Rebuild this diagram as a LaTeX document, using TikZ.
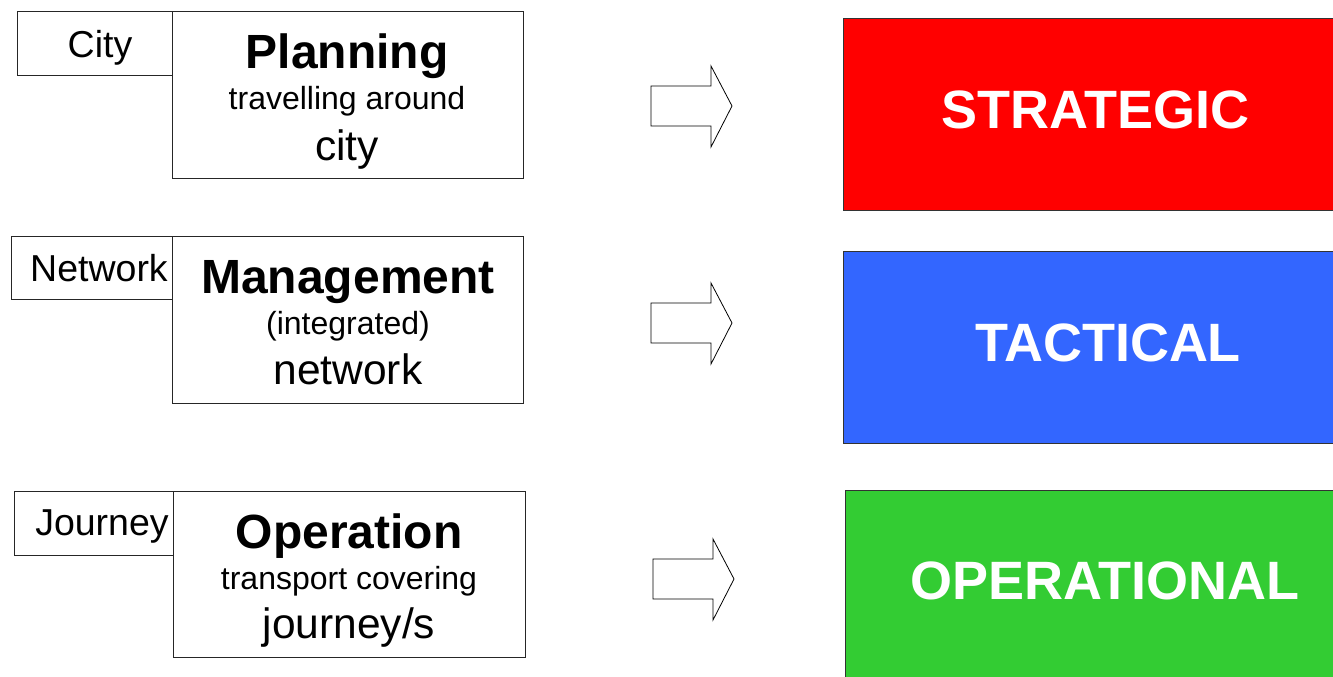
\documentclass[tikz,border=0pt]{standalone}
\usepackage{fontspec}
\setmainfont{Liberation Sans}
\begin{document}
\begin{tikzpicture}[x=1pt,y=-1pt,
  frame/.style={draw=black!85,line width=0.9pt,fill=white,inner sep=0pt},
  lbl/.style={frame,anchor=north west},
  mainbox/.style={frame,anchor=north west},
  tagtext/.style={anchor=base,inner sep=0pt,font=\fontsize{37.5}{37.5}\selectfont},
  headtext/.style={anchor=base,inner sep=0pt,font=\fontsize{48}{48}\selectfont\bfseries},
  subtext/.style={anchor=base,inner sep=0pt,font=\fontsize{32}{32}\selectfont},
  objtext/.style={anchor=base,inner sep=0pt,font=\fontsize{42.5}{42.5}\selectfont},
  levelbox/.style={draw=black!80,line width=0.9pt,anchor=north west,inner sep=0pt},
  leveltext/.style={anchor=base,inner sep=0pt,text=white,font=\fontsize{54}{54}\selectfont\bfseries},
  blockarrow/.style={draw=black,line width=0.8pt,fill=white,line join=miter}
]
\useasboundingbox (0,0) rectangle (1333,677);
\clip (0,0) rectangle (1333,677);

% coloured level boxes (running past the right edge)
\node[levelbox,fill={rgb,255:red,255;green,0;blue,0},minimum width=500,minimum height=192] (strat) at (843,18) {};
\node[levelbox,fill={rgb,255:red,51;green,102;blue,255},minimum width=500,minimum height=192] (tact) at (843,251) {};
\node[levelbox,fill={rgb,255:red,51;green,204;blue,51},minimum width=500,minimum height=200] (oper) at (845,490) {};
\node[leveltext] (stratT) at (1095,128) {STRATEGIC};
\node[leveltext] (tactT) at (1108,361) {TACTICAL};
\node[leveltext] (operT) at (1105,599) {OPERATIONAL};

% block arrows
\foreach \ax/\ay in {651/66, 651/283, 653/539}{
  \draw[blockarrow] (\ax,\ay+20) -- (\ax+60,\ay+20) -- (\ax+60,\ay) -- (\ax+81,\ay+40)
    -- (\ax+60,\ay+81) -- (\ax+60,\ay+60) -- (\ax,\ay+60) -- cycle;
}

% row 1: city planning
\node[lbl,minimum width=155,minimum height=64] (cityTag) at (17,11) {};
\node[mainbox,minimum width=351,minimum height=167] (plan) at (172,11) {};
\node[tagtext] (cityTagT) at (100,58) {City};
\node[headtext] (planH) at (347,68) {Planning};
\node[subtext] (planS) at (347,110) {travelling around};
\node[objtext] (planO) at (347,160) {city};

% row 2: network management
\node[lbl,minimum width=161,minimum height=63] (netTag) at (11,236) {};
\node[mainbox,minimum width=351,minimum height=167] (mgmt) at (172,236) {};
\node[tagtext] (netTagT) at (99,281) {Network};
\node[headtext] (mgmtH) at (348,293) {Management};
\node[subtext] (mgmtS) at (348,334) {(integrated)};
\node[objtext] (mgmtO) at (348,384) {network};

% row 3: journey operation
\node[lbl,minimum width=159,minimum height=64] (jrnTag) at (14,491) {};
\node[mainbox,minimum width=352,minimum height=166] (op) at (173,491) {};
\node[tagtext] (jrnTagT) at (102,535) {Journey};
\node[headtext] (opH) at (349,548) {Operation};
\node[subtext] (opS) at (349,589) {transport covering};
\node[objtext] (opO) at (349,638) {journey/s};
\end{tikzpicture}
\end{document}
